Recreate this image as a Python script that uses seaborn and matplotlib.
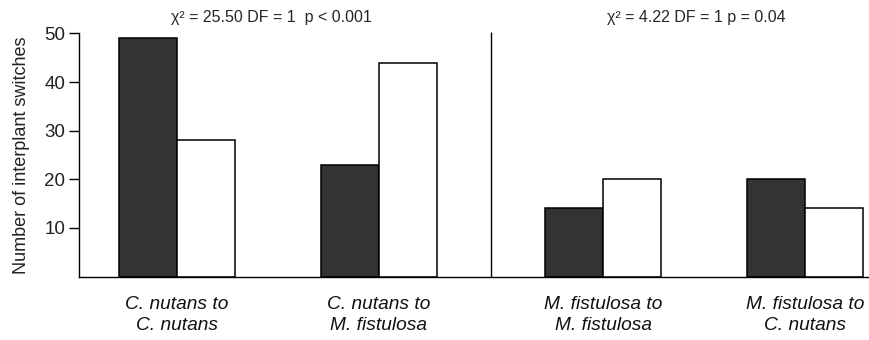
import matplotlib
matplotlib.use("Agg")
import matplotlib.pyplot as plt
import seaborn as sns
import pandas as pd

# switches between plant species, two series per transition (dark / open bars)
categories = ["C. nutans to\nC. nutans", "C. nutans to\nM. fistulosa",
              "M. fistulosa to\nM. fistulosa", "M. fistulosa to\nC. nutans"]
dark_values = [49, 23, 14, 20]
open_values = [28, 44, 20, 14]
series_names = ["dark", "open"]
y_ticks = [10, 20, 30, 40, 50]
stats_left = "χ² = 25.50 DF = 1  p < 0.001"
stats_right = "χ² = 4.22 DF = 1 p = 0.04"

# layout: the two species blocks sit a little further apart
group_pos = [0, 1, 2.11, 3.11]

df = pd.DataFrame({
    "pos": group_pos * 2,
    "value": dark_values + open_values,
    "series": [series_names[0]] * 4 + [series_names[1]] * 4,
})

sns.set_style("ticks")
plt.rcParams["font.family"] = ["Liberation Sans", "DejaVu Sans"]

fig = plt.figure(figsize=(8.7, 3.4), dpi=100)
# axes runs off the right edge, like the cropped original
ax = fig.add_axes([79 / 870, 63.5 / 340, 825 / 870, 243 / 340])

sns.barplot(data=df, x="pos", y="value", hue="series", native_scale=True,
            palette=["#333333", "white"], edgecolor="black", linewidth=1.1,
            width=0.574, errorbar=None, legend=False, ax=ax)

ax.set_xlim(-0.485, 3.6)
ax.set_ylim(0, 50)
ax.set_yticks(y_ticks)
ax.tick_params(axis="y", labelsize=13.5, length=7, width=1, pad=3,
               colors="black", labelcolor="#222222")
ax.set_xticks(group_pos)
ax.set_xticklabels(categories, fontstyle="italic", fontsize=13.8, linespacing=1.3)
ax.tick_params(axis="x", length=0, pad=14, labelcolor="#111111")
ax.set_xlabel("")
ax.set_ylabel("Number of interplant switches", fontsize=13, labelpad=10,
              color="#222222")

sns.despine(ax=ax)
ax.spines["left"].set_bounds(0, 50)
for s in ["left", "bottom"]:
    ax.spines[s].set_linewidth(1)
    ax.spines[s].set_color("black")

# divider between the two species blocks
mid = (group_pos[1] + group_pos[2]) / 2
ax.vlines(mid, 0, 50.3, color="black", linewidth=1, clip_on=False)

ax.text((group_pos[0] + group_pos[1]) / 2 - 0.03, 53.2, stats_left,
        ha="center", va="center", fontsize=11.5)
ax.text((group_pos[2] + group_pos[3]) / 2 - 0.04, 53.2, stats_right,
        ha="center", va="center", fontsize=11.5)

fig.savefig("out.png", dpi=100)
